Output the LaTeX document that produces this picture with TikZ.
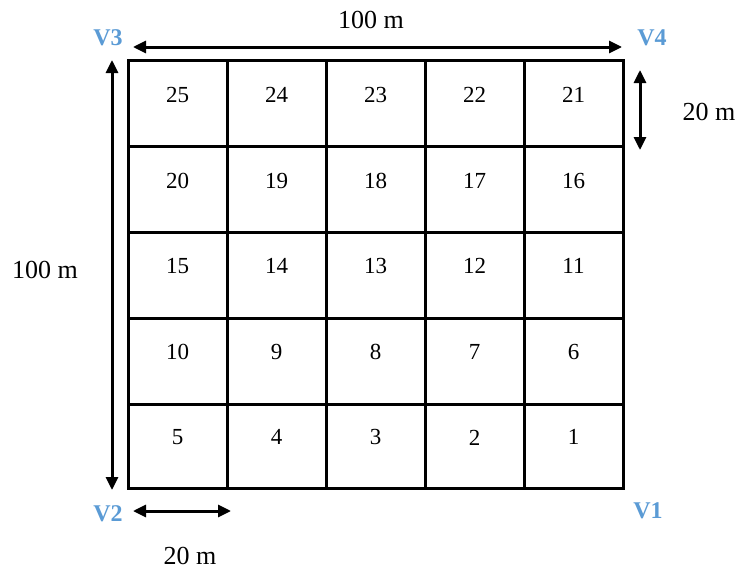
\documentclass[tikz,border=0pt]{standalone}
\usepackage{fontspec}
\setmainfont{Liberation Serif}
\usetikzlibrary{arrows.meta}
\definecolor{vblue}{HTML}{5B9BD5}
\begin{document}
\begin{tikzpicture}[x=1pt,y=-1pt,
  gridline/.style={line width=3pt},
  dimboth/.style={line width=3pt,{Triangle[length=13pt,width=12pt]}-{Triangle[length=13pt,width=12pt]}},
  num/.style={font=\fontsize{23}{27}\selectfont,inner sep=0pt},
  lbl/.style={font=\fontsize{26}{30}\selectfont,inner sep=0pt},
  vert/.style={font=\fontsize{24}{28}\selectfont\bfseries,text=vblue,inner sep=0pt}]
\useasboundingbox (0,0) rectangle (740,570);
% grid
\foreach \x in {227,326,425,524} \draw[gridline] (\x,60) -- (\x,488);
\foreach \y in {146,232,318,404} \draw[gridline] (128,\y) -- (623,\y);
\draw[gridline] (128,60) rectangle (623,488);
% numbers
\foreach \r in {0,...,4} {
  \foreach \c in {0,...,4} {
    \pgfmathtruncatemacro{\n}{25-5*\r-\c}
    \node[num] (c\n) at ({177.5+99*\c},{95+85.6*\r}) {\n};
  }
}
% corner labels
\node[vert] (V3) at (108,38) {V3};
\node[vert] (V4) at (652,38) {V4};
\node[vert] (V2) at (108,514) {V2};
\node[vert] (V1) at (648,511) {V1};
% dimension arrows
\coordinate (tL) at (133,47);
\coordinate (tR) at (622,47);
\coordinate (lT) at (112,60);
\coordinate (lB) at (112,490);
\coordinate (rT) at (640,70);
\coordinate (rB) at (640,150);
\coordinate (bL) at (133,511);
\coordinate (bR) at (231,511);
\draw[dimboth] (tL) -- (tR);
\draw[dimboth] (lT) -- (lB);
\draw[dimboth] (rT) -- (rB);
\draw[dimboth] (bL) -- (bR);
% dimension labels
\node[lbl] (top) at (371,20) {100 m};
\node[lbl] (left) at (45,270) {100 m};
\node[lbl] (right) at (709,112) {20 m};
\node[lbl] (bottom) at (190,556) {20 m};
\end{tikzpicture}
\end{document}
